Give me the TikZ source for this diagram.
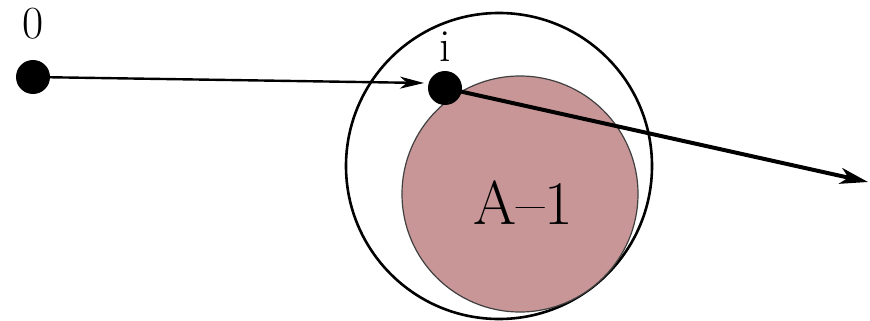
\documentclass[tikz,border=0pt]{standalone}
\usetikzlibrary{arrows.meta}
\definecolor{pinkfill}{RGB}{200,150,150}
\tikzset{
  dot/.style={circle,fill=black,inner sep=0pt,minimum size=34pt},
  lbl/.style={inner sep=0pt,font=\fontsize{46}{52}\selectfont},
  biglbl/.style={inner sep=0pt,font=\fontsize{62}{72}\selectfont},
  thinarrow/.style={line width=2.4pt,-{Stealth[length=24pt,width=12pt,inset=7pt]}},
  thickarrow/.style={line width=4pt,-{Stealth[length=28pt,width=16pt,inset=8pt]}}
}
\begin{document}
\begin{tikzpicture}[x=1pt,y=-1pt]
\useasboundingbox (0,0) rectangle (870,321);
\node[circle,draw=black,line width=2.6pt,minimum size=306pt,inner sep=0pt] (outer) at (499,166) {};
\node[circle,draw=black!75,fill=pinkfill,line width=1.2pt,minimum size=236pt,inner sep=0pt] (nucleus) at (520,194) {};
\node[biglbl] (alabel) at (523,203) {A--1};
\node[dot] (d0) at (33,77) {};
\node[dot] (di) at (445,88) {};
\node[lbl] (l0) at (33,24) {0};
\node[lbl] (li) at (445,47) {i};
\coordinate (e1) at (424,83);
\coordinate (e2) at (868,182);
\draw[thinarrow] (d0.center) -- (e1);
\draw[thickarrow] (di.center) -- (e2);
\end{tikzpicture}
\end{document}
